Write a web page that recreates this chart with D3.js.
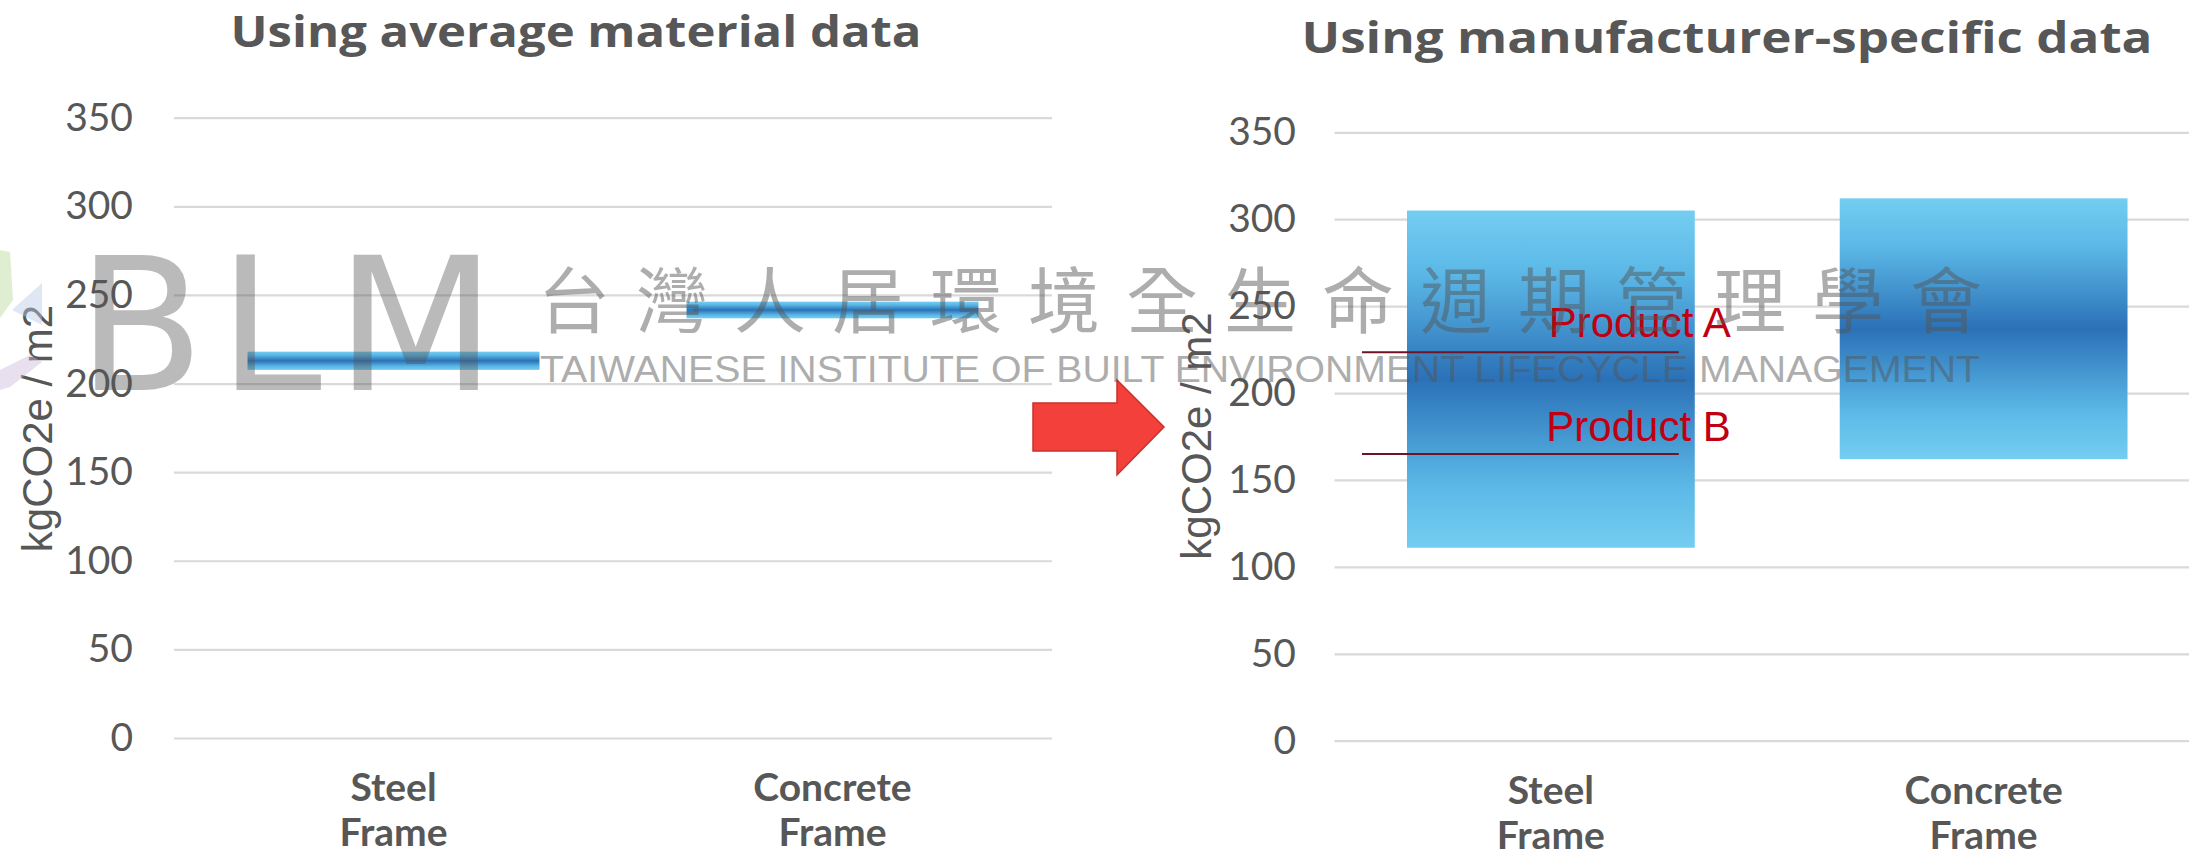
<!DOCTYPE html>
<html>
<head>
<meta charset="utf-8">
<script src="https://cdn.jsdelivr.net/npm/d3@7"></script>
<style>
  body { margin:0; background:#fff; }
  svg { display:block; }
</style>
</head>
<body>
<script>
var WIDTH=2189;
var HEIGHT=859;

// datos del grafico
var categories=["Steel Frame","Concrete Frame"];
var yTicks=[0,50,100,150,200,250,300,350];
// grafico izquierdo: rango con datos medios
var avgLow=[207.7,236.8];
var avgHigh=[218,246.2];
// grafico derecho: rango con datos del fabricante
var mfrLow=[111,162];
var mfrHigh=[305,312];
var productNames=["Product A","Product B"];
var productValues=[223.5,165];

var GREY="#575757";

var svg=d3.select("body").append("svg")
  .attr("width",WIDTH)
  .attr("height",HEIGHT);

svg.append("rect").attr("width",WIDTH).attr("height",HEIGHT).attr("fill","#fff");

var defs=svg.append("defs");
var grad=defs.append("linearGradient")
  .attr("id","barGrad")
  .attr("x1",0).attr("y1",0).attr("x2",0).attr("y2",1);
[[0,"#74cdf1"],[0.18,"#5cb9e7"],[0.5,"#2b71b7"],[0.82,"#5cb9e7"],[1,"#74cdf1"]].forEach(function(s){
  grad.append("stop").attr("offset",s[0]).attr("stop-color",s[1]);
});

// dibuja un panel (ejes, grid, barras flotantes)
function drawPanel(p){
  var g=svg.append("g");

  var x=d3.scaleBand()
    .domain(categories)
    .range([p.left,p.right])
    .paddingInner(0.335)
    .paddingOuter(0.1675);

  var y=d3.scaleLinear()
    .domain([0,350])
    .range([p.bottom,p.top]);

  // grid
  g.append("g")
    .attr("transform","translate("+p.left+",0)")
    .call(d3.axisLeft(y).tickValues(yTicks).tickSize(-(p.gridEnd-p.left)).tickFormat(""))
    .call(function(a){a.select(".domain").remove();})
    .selectAll("line")
    .attr("stroke","#d9d9d9")
    .attr("stroke-width",2.2);

  // etiquetas eje y
  g.append("g")
    .attr("transform","translate("+p.left+",0)")
    .call(d3.axisLeft(y).tickValues(yTicks).tickSize(0).tickPadding(p.tickPad))
    .call(function(a){a.select(".domain").remove();})
    .selectAll("text")
    .attr("fill",GREY)
    .style("font-family","Lato")
    .style("font-size","39px");

  // barras
  g.selectAll("rect.bar")
    .data(categories)
    .enter()
    .append("rect")
    .attr("class","bar")
    .attr("x",function(d){return x(d);})
    .attr("width",x.bandwidth())
    .attr("y",function(d,i){return y(p.high[i]);})
    .attr("height",function(d,i){return y(p.low[i])-y(p.high[i]);})
    .attr("fill","url(#barGrad)");

  // categorias
  var lab=g.selectAll("text.cat")
    .data(categories)
    .enter()
    .append("text")
    .attr("class","cat")
    .attr("x",function(d){return x(d)+x.bandwidth()/2;})
    .attr("y",p.catY)
    .attr("text-anchor","middle")
    .attr("fill",GREY)
    .style("font-family","Lato")
    .style("font-weight","700")
    .style("font-size","39px");
  lab.append("tspan").text(function(d){return d.split(" ")[0];});
  lab.append("tspan")
    .attr("x",function(d){return x(d)+x.bandwidth()/2;})
    .attr("dy",45)
    .text(function(d){return d.split(" ")[1];});

  // titulo
  g.append("text")
    .attr("x",p.titleX)
    .attr("y",p.titleY)
    .attr("text-anchor","middle")
    .attr("textLength",p.titleLen)
    .attr("lengthAdjust","spacingAndGlyphs")
    .attr("fill",GREY)
    .style("font-family","'Open Sans'")
    .style("font-weight","700")
    .style("font-size","43px")
    .text(p.title);

  // titulo eje y
  g.append("text")
    .attr("transform","translate("+p.yLabX+","+p.yLabY+") rotate(-90)")
    .attr("text-anchor","middle")
    .attr("fill",GREY)
    .style("font-family","'Liberation Sans'")
    .style("font-size","42px")
    .text("kgCO2e / m2");

  return {x:x,y:y,g:g};
}

var left=drawPanel({
  left:174, right:1052, gridEnd:1052, top:117.7, bottom:738, tickPad:41,
  low:avgLow, high:avgHigh, catY:801,
  title:"Using average material data", titleX:576, titleY:47, titleLen:691,
  yLabX:52, yLabY:428.5
});

var right=drawPanel({
  left:1334.5, right:2200, gridEnd:2189, top:132.3, bottom:740.7, tickPad:38.5,
  low:mfrLow, high:mfrHigh, catY:803.5,
  title:"Using manufacturer-specific data", titleX:1727, titleY:53, titleLen:851,
  yLabX:1211, yLabY:436
});

// lineas de producto en la barra de acero
var xs=right.x(categories[0]);
var bw=right.x.bandwidth();
right.g.selectAll("line.prod")
  .data(productValues)
  .enter()
  .append("line")
  .attr("class","prod")
  .attr("x1",xs-45)
  .attr("x2",xs+bw-16)
  .attr("y1",function(d){return right.y(d);})
  .attr("y2",function(d){return right.y(d);})
  .attr("stroke","#6e1424")
  .attr("stroke-width",2);

right.g.selectAll("text.prod")
  .data(productValues)
  .enter()
  .append("text")
  .attr("class","prod")
  .attr("x",xs+bw+36)
  .attr("y",function(d,i){return right.y(d)-(i==0?15:12.5);})
  .attr("text-anchor","end")
  .attr("fill","#c00012")
  .style("font-family","'Liberation Sans'")
  .style("font-size","42px")
  .text(function(d,i){return productNames[i];});

// flecha roja
svg.append("path")
  .attr("d","M1033,403 L1117,403 L1117,380 L1164,427 L1117,475 L1117,451 L1033,451 Z")
  .attr("fill","#f4403a")
  .attr("stroke","#c8302b")
  .attr("stroke-width",1.5);

// marca de agua
var wm=svg.append("g").attr("pointer-events","none");
wm.append("path").attr("d","M0,250 L10,252 L13,300 L0,318 Z").attr("fill","#b7d99a").attr("opacity",0.45);
wm.append("path").attr("d","M12,310 L42,283 L42,325 Z").attr("fill","#b9c9e6").attr("opacity",0.45);
wm.append("path").attr("d","M0,370 L30,355 L42,362 L10,387 L0,390 Z").attr("fill","#cdb8dc").attr("opacity",0.45);

wm.append("text")
  .attr("x",77).attr("y",390)
  .attr("textLength",419)
  .attr("lengthAdjust","spacing")
  .attr("fill","#555")
  .attr("opacity",0.4)
  .style("font-family","'DejaVu Sans'")
  .style("font-weight","400")
  .style("font-size","186px")
  .text("BLM");

wm.append("text")
  .attr("x",538).attr("y",327)
  .attr("textLength",1444)
  .attr("lengthAdjust","spacing")
  .attr("fill","#555")
  .attr("opacity",0.48)
  .style("font-family","'Noto Sans CJK TC'")
  .style("font-size","72px")
  .text("台灣人居環境全生命週期管理學會");

wm.append("text")
  .attr("x",540).attr("y",381.7)
  .attr("textLength",1440)
  .attr("lengthAdjust","spacingAndGlyphs")
  .attr("fill","#555")
  .attr("opacity",0.48)
  .style("font-family","'Liberation Sans'")
  .style("font-size","37px")
  .text("TAIWANESE INSTITUTE OF BUILT ENVIRONMENT LIFECYCLE MANAGEMENT");
</script>
</body>
</html>
